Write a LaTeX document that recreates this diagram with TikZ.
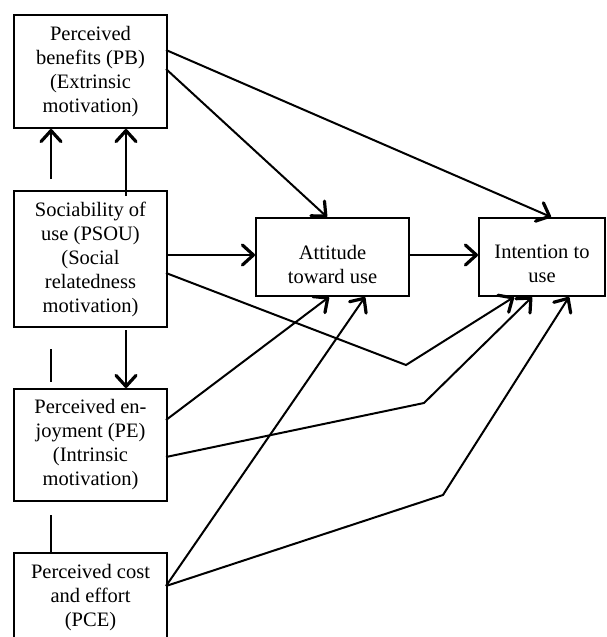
\documentclass[tikz,border=0pt]{standalone}
\usepackage{fontspec}
\setmainfont{Liberation Serif}
\usetikzlibrary{arrows.meta,calc}
\begin{document}
\begin{tikzpicture}[x=1pt,y=-1pt,
  box/.style={draw,line width=2pt,inner sep=0pt,align=center,font=\fontsize{20.5}{24}\selectfont},
  txt/.style={inner sep=0pt,align=center,font=\fontsize{20.5}{24}\selectfont},
  conn/.style={line width=2pt},
  arr/.style={conn,-{Straight Barb[length=11pt,width=20pt,line width=3.2pt,round]}}]
\useasboundingbox (0,0) rectangle (607,637);
\clip (0,0) rectangle (607,637);
% boxes
\node[box,minimum width=153pt,minimum height=113pt] (pb) at (90.5,71.5) {Perceived\\benefits (PB)\\(Extrinsic\\motivation)};
\node[box,minimum width=153pt,minimum height=136pt] (psou) at (90.5,259) {Sociability of\\use (PSOU)\\(Social\\relatedness\\motivation)};
\node[box,minimum width=153pt,minimum height=112pt] (pe) at (90.5,445) {Perceived en-\\joyment (PE)\\(Intrinsic\\motivation)};
\node[box,minimum width=153pt,minimum height=90pt] (pce) at (90.5,598) {Perceived cost\\and effort\\(PCE)};
\node[box,minimum width=153pt,minimum height=78pt] (att) at (332.5,257) {};
\node[txt] (attt) at (332.5,264) {Attitude\\toward use};
\node[box,minimum width=126pt,minimum height=78pt] (int) at (542,257) {};
\node[txt] (intt) at (542,264) {Intention to\\use};
% vertical arrows and lines on the left
\draw[arr] ($(psou.north west)+(38,-11)$) -- ($(pb.south west)+(38,0)$);
\draw[arr] ($(psou.north west)+(113,6)$) -- ($(pb.south west)+(113,0)$);
\draw[arr] ($(psou.south west)+(113,2)$) -- ($(pe.north west)+(113,0)$);
\draw[conn] ($(psou.south west)+(38,21)$) -- ($(pe.north west)+(38,-6)$);
\draw[conn] ($(pe.south west)+(38,13)$) -- ($(pce.north west)+(38,0)$);
% from PB
\draw[arr] ($(pb.north east)+(-2,36)$) -- ($(int.north west)+(73,0)$);
\draw[arr] ($(pb.north east)+(-2,55)$) -- ($(att.north west)+(72,0)$);
% horizontal arrows
\coordinate (a2) at ([yshift=2pt]att.west);
\draw[arr] (psou.east |- a2) -- (a2);
\draw[arr] ([yshift=2pt]att.east) -- ([yshift=2pt]int.west);
% bent connectors
\coordinate (b1) at (406,365);
\coordinate (b2) at (424,403);
\coordinate (b3) at (443,495);
\draw[arr] ($(psou.north east)+(-2,83)$) -- (b1) -- ($(int.south west)+(36,0)$);
\draw[arr] ($(pe.north east)+(-2,32)$) -- ($(att.south west)+(74,0)$);
\draw[arr] ($(pe.north east)+(-2,69)$) -- (b2) -- ($(int.south west)+(54,0)$);
\draw[arr] ($(pce.north east)+(-2,34)$) -- ($(att.south west)+(110,0)$);
\draw[arr] ($(pce.north east)+(-2,34)$) -- (b3) -- ($(int.south west)+(91,0)$);
\end{tikzpicture}
\end{document}
